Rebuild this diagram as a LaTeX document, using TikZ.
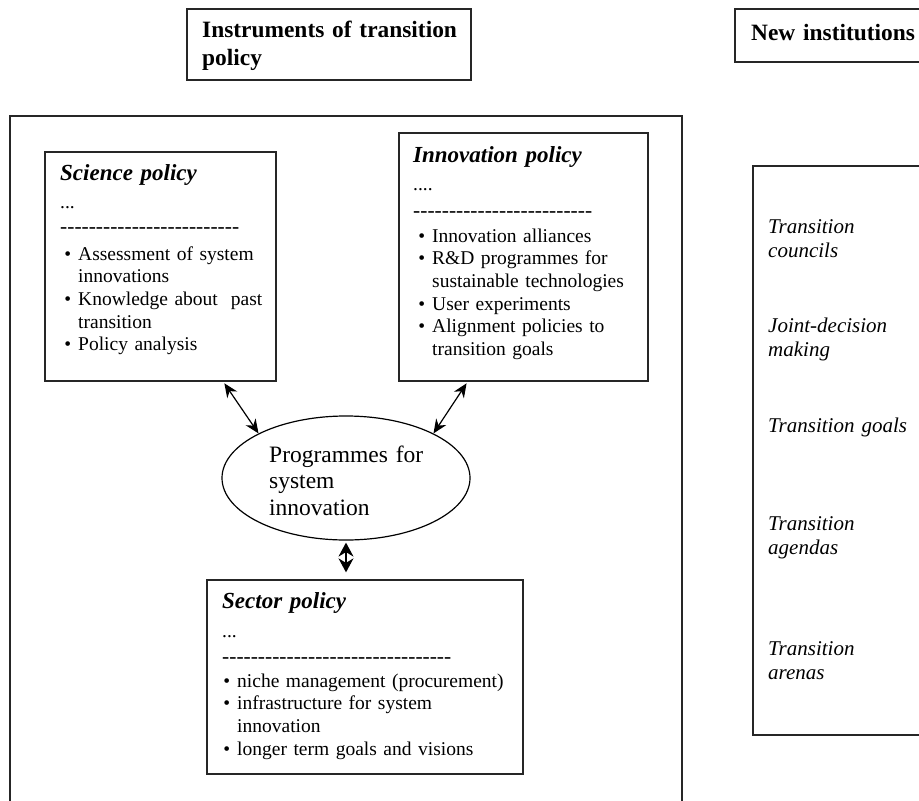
\documentclass[tikz,border=0pt]{standalone}
\usepackage{fontspec}
\setmainfont{Liberation Serif}
\usetikzlibrary{arrows.meta,shapes.geometric,calc}

% a row of separate hyphens (no dash ligatures)
\newcommand\hyphenrow[1]{\foreach \i in {1,...,#1}{-\kern0pt}}
\newcommand\itembullet{\leavevmode\llap{\textbullet\hspace{7pt}}}

\tikzset{
  boxframe/.style={draw=black!85, line width=1.3pt, rectangle, inner sep=0pt},
  txt/.style={inner sep=0pt, anchor=base west, align=left, text width=#1},
  txt/.default=320pt,
  titlefont/.style={font=\bfseries\fontsize{23.4}{28}\selectfont},
  headfont/.style={font=\bfseries\itshape\fontsize{23}{27}\selectfont},
  bodyfont/.style={font=\fontsize{19.5}{22.7}\selectfont},
  dashfont/.style={font=\fontsize{21.5}{24}\selectfont},
  instfont/.style={font=\itshape\fontsize{21}{24}\selectfont},
  progfont/.style={font=\fontsize{23.5}{26.5}\selectfont},
  twoway/.style={{Stealth[length=14pt,width=12pt]}-{Stealth[length=14pt,width=12pt]}, line width=1.2pt, draw=black},
}

\begin{document}
\begin{tikzpicture}[x=1pt,y=-1pt]
\useasboundingbox (0,0) rectangle (919,801);
\clip (0,0) rectangle (919,801);
\fill[white] (0,0) rectangle (919,801);

% column headings
\node[boxframe, minimum width=284pt, minimum height=71pt] (titlebox) at (329,44.5) {};
\node[txt, titlefont] (titletext) at (202,37) {Instruments of transition\\policy};
\node[boxframe, minimum width=215pt, minimum height=53pt] (instbox) at (842.5,35.5) {};
\node[txt, titlefont] (insttext) at (751,40) {New institutions};

% large frame of the instruments
\node[boxframe, minimum width=672pt, minimum height=714pt] (frame) at (346,473) {};

% science policy
\node[boxframe, minimum width=231pt, minimum height=229pt] (sci) at (160.5,266.5) {};
\node[txt, headfont] (scihead) at (60,180) {Science policy};
\node[txt, bodyfont] (scidots) at (60,208) {...};
\node[txt, dashfont] (scidash) at (60,233) {\hyphenrow{25}};
\node[txt=200pt, bodyfont] (scilist) at (78,260) {%
  \itembullet Assessment of system\\innovations\\
  \itembullet Knowledge about~ past\\transition\\
  \itembullet Policy analysis};

% innovation policy
\node[boxframe, minimum width=249pt, minimum height=248pt] (inn) at (523.5,257) {};
\node[txt, headfont] (innhead) at (413,162) {Innovation policy};
\node[txt, bodyfont] (inndots) at (413,190) {....};
\node[txt, dashfont] (inndash) at (413,217) {\hyphenrow{25}};
\node[txt=220pt, bodyfont] (innlist) at (432,242) {%
  \itembullet Innovation alliances\\
  \itembullet R\&D programmes for\\sustainable technologies\\
  \itembullet User experiments\\
  \itembullet Alignment policies to\\transition goals};

% programmes for system innovation
\node[draw=black, line width=1.2pt, ellipse, inner sep=0pt,
      minimum width=248pt, minimum height=124pt] (prog) at (346,478) {};
\node[txt, progfont] (progtext) at (269,462) {Programmes for\\system\\innovation};

% sector policy
\node[boxframe, minimum width=316pt, minimum height=194pt] (sec) at (365,677) {};
\node[txt, headfont] (sechead) at (222,608) {Sector policy};
\node[txt, bodyfont] (secdots) at (222,637) {...};
\node[txt, dashfont] (secdash) at (222,663) {\hyphenrow{32}};
\node[txt=290pt, bodyfont] (seclist) at (237,687) {%
  \itembullet niche management (procurement)\\
  \itembullet infrastructure for system\\innovation\\
  \itembullet longer term goals and visions};

% links to the programmes
\coordinate (scifoot) at ($(sci.south east)!0.23!(sci.south west)$);
\coordinate (innfoot) at ($(inn.south west)!0.277!(inn.south east)$);
\draw[twoway, shorten <=2pt] (scifoot) -- (prog.153);
\draw[twoway, shorten <=2pt] (innfoot) -- (prog.27);
\draw[twoway, {Stealth[length=14pt,width=15pt]}-{Stealth[length=14pt,width=15pt]},
      shorten <=2pt, shorten >=7pt] (prog.south) -- (prog.south |- sec.north);

% new institutions
\node[boxframe, minimum width=197pt, minimum height=569pt] (inst) at (851.5,450.5) {};
\node[txt=140pt, instfont] (councils) at (768,233) {Transition\\councils};
\node[txt=140pt, instfont] (joint) at (768,332) {Joint-decision\\making};
\node[txt=160pt, instfont] (goals) at (768,432) {Transition goals};
\node[txt=140pt, instfont] (agendas) at (768,530) {Transition\\agendas};
\node[txt=140pt, instfont] (arenas) at (768,655) {Transition\\arenas};
\end{tikzpicture}
\end{document}
